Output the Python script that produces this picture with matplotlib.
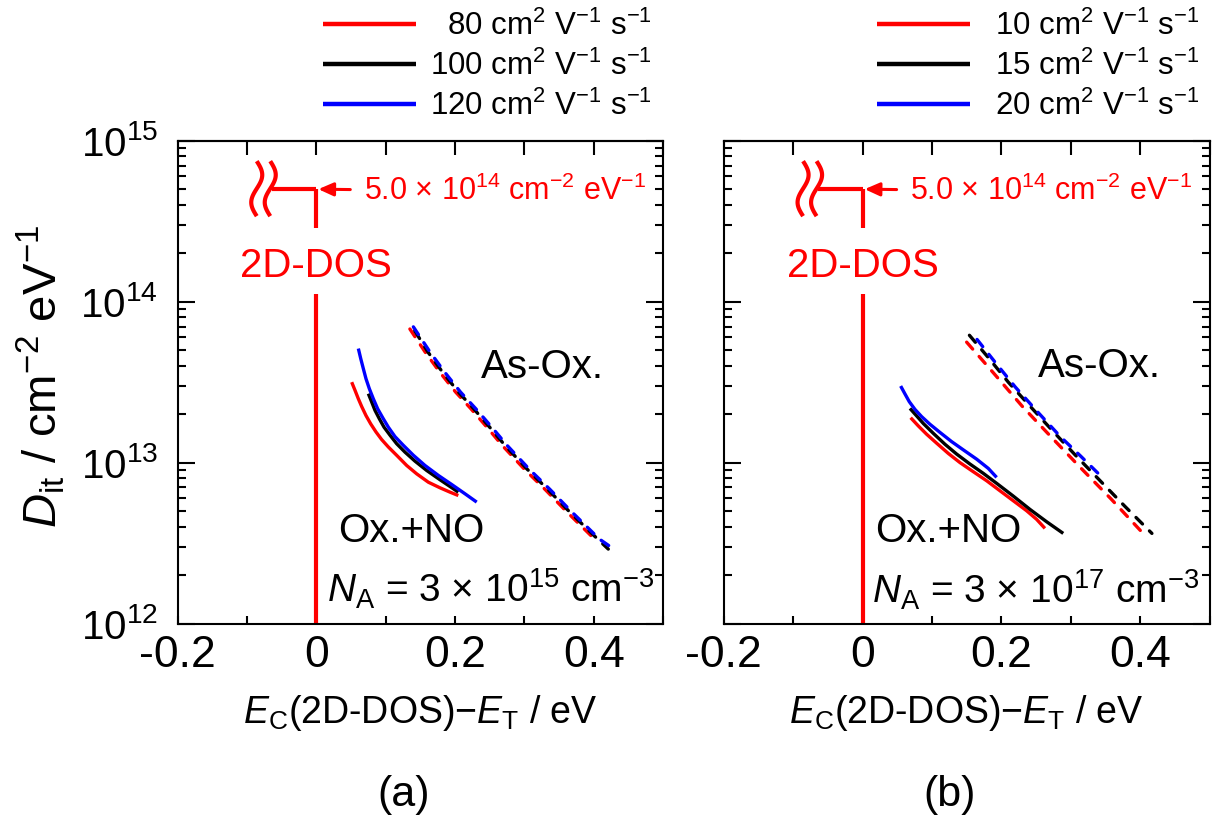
import numpy as np
import matplotlib
matplotlib.use("Agg")
import matplotlib.pyplot as plt
from matplotlib.ticker import (MultipleLocator, LogLocator, FuncFormatter,
                               NullFormatter, LogFormatterMathtext)
from matplotlib.transforms import ScaledTranslation

plt.rcParams['font.family'] = ['Liberation Sans', 'DejaVu Sans']
plt.rcParams['mathtext.fontset'] = 'custom'
plt.rcParams['mathtext.rm'] = 'Liberation Sans'
plt.rcParams['mathtext.it'] = 'Liberation Sans:italic'
plt.rcParams['mathtext.bf'] = 'Liberation Sans:bold'
plt.rcParams['axes.unicode_minus'] = False

# ---------------- data ----------------
colors = ['#ff0000', '#000000', '#0000ff']

# (a) N_A = 3e15 cm^-3, mobilities 80 / 100 / 120 cm2/Vs
mob_a = ["\u200780", "100", "120"]
# Ox.+NO (solid)
a_no_x = [
    [0.0511, 0.0559, 0.0607, 0.0655, 0.0717, 0.0785, 0.0861, 0.0943, 0.1039,
     0.1159, 0.1304, 0.1448, 0.1616, 0.1784, 0.1928, 0.2048],
    [0.0751, 0.0799, 0.0847, 0.0910, 0.0977, 0.1063, 0.1159, 0.1280, 0.1424,
     0.1592, 0.1784, 0.1928, 0.2048],
    [0.0607, 0.0641, 0.0679, 0.0717, 0.0765, 0.0823, 0.0885, 0.0958, 0.1039,
     0.1135, 0.1255, 0.1400, 0.1568, 0.1760, 0.1952, 0.2144, 0.2313],
]
a_no_y = [
    [3.16e13, 2.81e13, 2.49e13, 2.23e13, 1.96e13, 1.74e13, 1.55e13, 1.39e13,
     1.25e13, 1.11e13, 9.59e12, 8.51e12, 7.55e12, 6.97e12, 6.55e12, 6.24e12],
    [2.68e13, 2.38e13, 2.11e13, 1.87e13, 1.66e13, 1.48e13, 1.31e13, 1.16e13,
     1.02e13, 8.93e12, 7.82e12, 7.10e12, 6.55e12],
    [5.11e13, 4.43e13, 3.83e13, 3.32e13, 2.88e13, 2.49e13, 2.16e13, 1.90e13,
     1.66e13, 1.45e13, 1.28e13, 1.11e13, 9.59e12, 8.32e12, 7.31e12, 6.40e12,
     5.68e12],
]
# As-Ox. (dashed)
a_as_x = [
    [0.135, 0.157, 0.178, 0.201, 0.223, 0.247, 0.268, 0.300, 0.330, 0.360, 0.401],
    [0.142, 0.161, 0.182, 0.205, 0.227, 0.251, 0.272, 0.304, 0.334, 0.364, 0.404, 0.421],
    [0.140, 0.164, 0.185, 0.208, 0.230, 0.254, 0.275, 0.307, 0.337, 0.367, 0.408, 0.433],
]
a_as_y = [
    [6.76e13, 4.86e13, 3.65e13, 2.74e13, 2.16e13, 1.64e13, 1.28e13, 9.1e12, 6.8e12, 5.0e12, 3.35e12],
    [6.6e13, 4.86e13, 3.65e13, 2.74e13, 2.16e13, 1.64e13, 1.28e13, 9.1e12, 6.8e12, 5.0e12, 3.4e12, 2.9e12],
    [6.97e13, 4.86e13, 3.65e13, 2.74e13, 2.16e13, 1.64e13, 1.28e13, 9.1e12, 6.8e12, 5.0e12, 3.35e12, 2.82e12],
]

# (b) N_A = 3e17 cm^-3, mobilities 10 / 15 / 20 cm2/Vs
mob_b = ["10", "15", "20"]
b_no_x = [
    [0.0693, 0.0803, 0.0923, 0.1067, 0.1235, 0.1403, 0.1596, 0.1788, 0.1980,
     0.2172, 0.2364, 0.2508, 0.2628],
    [0.0683, 0.0779, 0.0875, 0.1019, 0.1187, 0.1355, 0.1548, 0.1740, 0.1932,
     0.2172, 0.2412, 0.2652, 0.2892],
    [0.0549, 0.0611, 0.0673, 0.0755, 0.0851, 0.0971, 0.1115, 0.1283, 0.1451,
     0.1644, 0.1812, 0.1932],
]
b_no_y = [
    [1.90e13, 1.69e13, 1.50e13, 1.32e13, 1.14e13, 1.00e13, 8.77e12, 7.71e12,
     6.68e12, 5.79e12, 5.02e12, 4.44e12, 3.90e12],
    [2.17e13, 1.95e13, 1.75e13, 1.52e13, 1.30e13, 1.13e13, 9.79e12, 8.57e12,
     7.43e12, 6.19e12, 5.12e12, 4.29e12, 3.63e12],
    [2.99e13, 2.67e13, 2.39e13, 2.14e13, 1.93e13, 1.73e13, 1.54e13, 1.35e13,
     1.20e13, 1.05e13, 9.20e12, 8.09e12],
]
b_as_x = [
    [0.150, 0.190, 0.230, 0.272, 0.313, 0.358, 0.402],
    [0.154, 0.182, 0.210, 0.241, 0.273, 0.306, 0.340, 0.378, 0.417],
    [0.165, 0.192, 0.220, 0.252, 0.285, 0.314, 0.342],
]
b_as_y = [
    [5.6e13, 3.55e13, 2.24e13, 1.44e13, 9.4e12, 5.95e12, 3.72e12],
    [6.18e13, 4.45e13, 3.16e13, 2.25e13, 1.59e13, 1.12e13, 7.9e12, 5.35e12, 3.63e12],
    [5.82e13, 4.15e13, 2.95e13, 2.07e13, 1.45e13, 1.10e13, 8.36e12],
]

dos_level = 5.0e14           # 2D-DOS value
na_labels = ["15", "17"]
panel_labels = ["(a)", "(b)"]

# ---------------- figure ----------------
W, H = 1219, 830
fig = plt.figure(figsize=(W / 100, H / 100), dpi=100)


def fx(px):
    return px / W


def fy(py):
    return 1 - py / H


ax_top, ax_bot = 140.7, 623.5
axA = fig.add_axes([fx(177.5), fy(ax_bot), 485.6 / W, (ax_bot - ax_top) / H])
axB = fig.add_axes([fx(723.8), fy(ax_bot), 485.7 / W, (ax_bot - ax_top) / H])

LW = 2.4


def style_axes(ax, ylabels):
    ax.set_yscale('log')
    ax.set_xlim(-0.2, 0.5)
    ax.set_ylim(1e12, 1e15)
    for s in ax.spines.values():
        s.set_linewidth(1.5)
    ax.xaxis.set_major_locator(MultipleLocator(0.2))
    ax.xaxis.set_minor_locator(MultipleLocator(0.1))
    ax.xaxis.set_major_formatter(FuncFormatter(
        lambda v, p: '0' if abs(v) < 1e-9 else f'{v:.1f}'))
    ax.yaxis.set_major_locator(LogLocator(base=10, numticks=10))
    ax.yaxis.set_minor_locator(LogLocator(base=10, subs=np.arange(2, 10), numticks=20))
    ax.yaxis.set_minor_formatter(NullFormatter())
    if ylabels:
        ax.yaxis.set_major_formatter(LogFormatterMathtext())
    else:
        ax.yaxis.set_major_formatter(NullFormatter())
    ax.tick_params(axis='x', which='both', direction='in', top=False, bottom=True,
                   length=5.5, width=1.5, labelsize=32, pad=8)
    ax.tick_params(axis='y', which='major', direction='in', left=True, right=True,
                   length=12, width=1.5, labelsize=29, pad=14)
    ax.tick_params(axis='y', which='minor', direction='in', left=True, right=True,
                   length=6, width=1.5)
    sec = ax.secondary_xaxis('top')
    sec.xaxis.set_major_locator(MultipleLocator(0.2))
    sec.xaxis.set_minor_locator(MultipleLocator(0.1))
    sec.tick_params(axis='x', which='both', direction='in', length=10, width=1.5,
                    labeltop=False)
    sec.spines['top'].set_linewidth(1.5)


def dos_marker(ax):
    red = '#ff0000'
    ax.plot([0, 0], [1e12, 1.12e14], color=red, lw=3.0, solid_capstyle='butt')
    ax.plot([0, 0], [2.85e14, dos_level], color=red, lw=3.0, solid_capstyle='butt')
    ax.plot([-0.064, 0], [dos_level, dos_level], color=red, lw=3.0,
            solid_capstyle='butt')
    ax.text(0, 1.43e14, '2D-DOS', color=red, fontsize=29, ha='center',
            va='baseline')
    # break marks (two wavy strokes), drawn in pixels relative to the anchor
    anchor = ScaledTranslation(0, dos_level, ax.transData)
    trans = fig.dpi_scale_trans + anchor
    t = np.linspace(0, 1, 60)
    for xc in (-59.5, -46.0):
        xs = (xc + 5.5 * np.sin(2 * np.pi * t)) / 100.0
        ys = (28.0 - 55.0 * t) / 100.0
        ax.plot(xs, ys, color=red, lw=3.0, transform=trans, clip_on=False,
                solid_capstyle='butt')
    ax.annotate(r'5.0 × 10$^{14}$ cm$^{-2}$ eV$^{-1}$',
                xy=(0, dos_level), xycoords='data',
                xytext=(34.5, -7.9), textcoords='offset points',
                ha='left', va='baseline', color=red, fontsize=22,
                arrowprops=dict(arrowstyle='-|>,head_length=0.45,head_width=0.2',
                                color=red, lw=2.2, shrinkA=8, shrinkB=1.5,
                                mutation_scale=20))


def draw_panel(ax, nox, noy, asx, asy, mobs, na_exp, legend_pos, txtpad,
               pos_as, pos_no, pos_na):
    handles = []
    for i in range(3):
        h, = ax.plot(nox[i], noy[i], color=colors[i], lw=LW,
                     solid_capstyle='butt', solid_joinstyle='round')
        handles.append(h)
    for i in range(3):
        ax.plot(asx[i], asy[i], color=colors[i], lw=LW, dashes=(2.75, 2.95),
                dash_capstyle='round')
    style_axes(ax, ax is axA)
    dos_marker(ax)
    ax.text(*pos_as, 'As-Ox.', fontsize=29, ha='left', va='baseline')
    ax.text(*pos_no, 'Ox.+NO', fontsize=29, ha='left', va='baseline')
    ax.text(*pos_na, r'$N_{\rm A}$ = 3 × 10$^{%s}$ cm$^{-3}$' % na_exp,
            fontsize=28, ha='left', va='baseline')
    labels = [m + r' cm$^{2}$ V$^{-1}$ s$^{-1}$' for m in mobs]
    leg = ax.legend(handles, labels, loc='upper left',
                    bbox_to_anchor=legend_pos, bbox_transform=fig.transFigure,
                    frameon=False, fontsize=22.5, handlelength=2.99,
                    handletextpad=txtpad, labelspacing=0.27, borderpad=0,
                    borderaxespad=0)
    for line in leg.get_lines():
        line.set_linewidth(3.2)


draw_panel(axA, a_no_x, a_no_y, a_as_x, a_as_y, mob_a, na_labels[0],
           (fx(322.7), fy(11.0)), 0.45,
           (0.237, 3.33e13), (0.031, 3.19e12), (0.016, 1.35e12))
draw_panel(axB, b_no_x, b_no_y, b_as_x, b_as_y, mob_b, na_labels[1],
           (fx(876.7), fy(11.0)), 0.8,
           (0.252, 3.42e13), (0.0187, 3.19e12), (0.0135, 1.32e12))

xlabel = r'$E_{\rm C}$(2D-DOS)−$E_{\rm T}$ / eV'
for ax, plabel, cx in ((axA, panel_labels[0], 404), (axB, panel_labels[1], 950)):
    ax.set_xlabel(xlabel, fontsize=27, va='baseline')
    ax.xaxis.set_label_coords(0.5, 1 - (722.7 - ax_top) / (ax_bot - ax_top))
    fig.text(fx(cx), fy(806), plabel, fontsize=31, ha='center', va='baseline')

axA.set_ylabel(r'$D_{\rm it}$ / cm$^{-2}$ eV$^{-1}$', fontsize=34, va='center')
axA.yaxis.set_label_coords((41 - 177.5) / 485.6, 1 - (376 - ax_top) / (ax_bot - ax_top))

fig.savefig('out.png', dpi=100)
